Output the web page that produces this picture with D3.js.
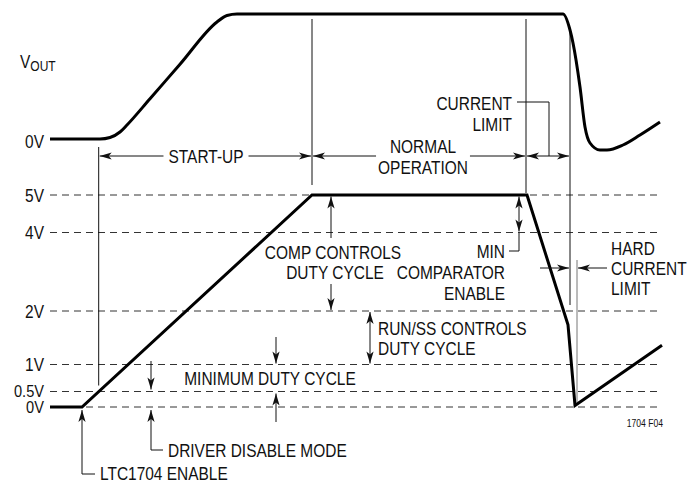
<!DOCTYPE html>
<html><head><meta charset="utf-8">
<script src="https://cdn.jsdelivr.net/npm/d3@7"></script>
<style>
body{margin:0;background:#fff}
svg text{font-family:"Liberation Sans",Arial,sans-serif;font-size:18px;fill:#111}
</style></head><body><svg id="c" width="695" height="483"></svg>
<script>
// ---------- data ----------
const levelLabels = ["5V", "4V", "2V", "1V", "0.5V", "0V"];
const levelValues = [5, 4, 2, 1, 0.5, 0];
// VOUT (fraction of nominal) vs time (arbitrary units)
const voutTime  = [0, 5, 6, 7, 7.7, 10, 13, 16.7, 17.7, 18.7, 51.3, 52, 52.3, 53, 53.5, 54, 55, 55.7, 57.3, 59, 61];
const voutValue = [0, 0, 0.012, 0.056, 0.112, 0.322, 0.598, 0.936, 0.988, 1, 1, 0.872, 0.768, 0.416, 0.096, -0.032, -0.088, -0.088, -0.048, 0.032, 0.136];
// RUN/SS voltage vs time
const runssTime  = [0, 3.2, 26.2, 47.7, 51.8, 52.5, 61.2];
const runssValue = [0, 0, 5, 5, 1.74, 0.05, 1.36];
// event markers
const eventNames = ["enable", "startup", "normal", "climit", "hard", "hard2"];
const eventTimes = [3.2, 4.87, 26.2, 47.6, 52.0, 52.7];

// ---------- scales ----------
const x = d3.scaleLinear().domain([0, 61]).range([50, 660]);
const yTop = d3.scaleLinear().domain([0, 1]).range([139, 14]);
const yBot = d3.scaleLinear().domain([0, 0.5, 1, 2, 4, 5]).range([407, 391.5, 364.5, 311, 232.5, 195]);
const ev = {}; eventNames.forEach((n, i) => ev[n] = x(eventTimes[i]));

const svg = d3.select("#c");
const SX = 0.86; // condensed look

// ---------- helpers ----------
function line(x1, y1, x2, y2, col, w) {
  svg.append("line").attr("x1", x1).attr("y1", y1).attr("x2", x2).attr("y2", y2)
    .attr("stroke", col || "#111").attr("stroke-width", w || 1);
}
function head(xt, yt, xf, yf) {
  const a = Math.atan2(yt - yf, xt - xf), L = 12, W = 3.6;
  const bx = xt - L * Math.cos(a), by = yt - L * Math.sin(a);
  const nx = -Math.sin(a) * W, ny = Math.cos(a) * W;
  const mx = xt - L * 0.75 * Math.cos(a), my = yt - L * 0.75 * Math.sin(a);
  svg.append("path").attr("d", `M${xt},${yt}L${bx + nx},${by + ny}L${mx},${my}L${bx - nx},${by - ny}Z`).attr("fill", "#111");
}
function arrow(x1, y1, x2, y2) { line(x1, y1, x2, y2); head(x2, y2, x1, y1); }
function darrow(x1, y1, x2, y2) { line(x1, y1, x2, y2); head(x2, y2, x1, y1); head(x1, y1, x2, y2); }
function txt(s, xx, yy, anchor, size) {
  const t = svg.append("text").attr("transform", `translate(${xx},${yy}) scale(${SX},1)`)
    .attr("text-anchor", anchor || "start").style("font-size", (size || 18) + "px").text(s);
  t.width = () => t.node().getComputedTextLength() * SX;
  return t;
}

// ---------- level grid ----------
levelValues.forEach((v, i) => {
  svg.append("line").attr("x1", 50).attr("x2", 658).attr("y1", yBot(v)).attr("y2", yBot(v))
    .attr("stroke", "#333").attr("stroke-width", 1).attr("stroke-dasharray", "7,5");
  const small = v <= 0.5;
  txt(levelLabels[i], 44, yBot(v) + (small ? 5.5 : 6.5), "end", small ? 17 : 18);
});

// ---------- top labels ----------
const vl = svg.append("text").attr("transform", `translate(20,68) scale(${SX},1)`);
vl.append("tspan").text("V");
vl.append("tspan").attr("dy", 3).style("font-size", "14px").text("OUT");
txt("0V", 44, yTop(0) + 9, "end");

// ---------- vertical event lines ----------
line(ev.startup, 147, ev.startup, yBot(0.5) - 6);
line(ev.normal, 19, ev.normal, yBot(5) - 10);
line(ev.climit, 19, ev.climit, yBot(5) - 2);
line(ev.hard, yTop(0.87), ev.hard, 305);
line(ev.hard2, 260, ev.hard2, 402, "#777", 1);

// ---------- curves ----------
const vout = voutTime.map((t, i) => [t, voutValue[i]]);
svg.append("path").datum(vout)
  .attr("d", d3.line().x(d => x(d[0])).y(d => yTop(d[1])).curve(d3.curveMonotoneX))
  .attr("fill", "none").attr("stroke", "#000").attr("stroke-width", 3).attr("stroke-linejoin", "round");
const runss = runssTime.map((t, i) => [t, runssValue[i]]);
svg.append("path").datum(runss)
  .attr("d", d3.line().x(d => x(d[0])).y(d => yBot(d[1])))
  .attr("fill", "none").attr("stroke", "#000").attr("stroke-width", 3).attr("stroke-linejoin", "miter");

// ---------- phase arrows (row) ----------
const rowY = 156;
{
  const cx = 206, t = txt("START-UP", cx, rowY + 6.5, "middle");
  const w = t.width();
  arrow(cx - w / 2 - 5, rowY, ev.startup + 1, rowY);
  arrow(cx + w / 2 + 5, rowY, ev.normal - 1, rowY);
}
{
  const cx = 423;
  txt("NORMAL", cx, rowY - 3, "middle");
  const t = txt("OPERATION", cx, rowY + 18, "middle");
  const w = t.width();
  arrow(cx - w / 2 - 2, rowY, ev.normal + 1, rowY);
  arrow(cx + w / 2 + 2, rowY, ev.climit - 1, rowY);
}
darrow(ev.climit + 1, rowY, ev.hard - 1, rowY);
txt("CURRENT", 512, 110, "end");
txt("LIMIT", 512, 131, "end");
line(517, 102, 549, 102); line(549, 102, 549, rowY);

// ---------- annotations ----------
txt("COMP CONTROLS", 333, 259, "middle");
txt("DUTY CYCLE", 335, 279, "middle");
arrow(331, 238, 331, yBot(5) + 1.5);
arrow(331, 284, 331, yBot(2) - 1);

txt("MIN", 505, 258, "end");
txt("COMPARATOR", 505, 279, "end");
txt("ENABLE", 505, 300, "end");
darrow(519, yBot(5) + 1.5, 519, yBot(4) - 1);
line(509, 251, 519, 251); line(519, 251, 519, yBot(4));

arrow(540, 268, ev.hard - 1, 268);
arrow(607, 268, ev.hard2 + 1, 268);
txt("HARD", 611, 255, "start");
txt("CURRENT", 611, 275, "start");
txt("LIMIT", 611, 295, "start");

darrow(370, yBot(2) + 1, 370, yBot(1) - 1);
txt("RUN/SS CONTROLS", 378, 335, "start");
txt("DUTY CYCLE", 378, 355, "start");

txt("MINIMUM DUTY CYCLE", 270, 385, "middle");
arrow(276, 337, 276, yBot(1) - 1);
arrow(276, 422, 276, yBot(0.5) + 2);

arrow(151, 361, 151, yBot(0.5) - 2);
arrow(151, 450, 151, yBot(0) + 3);
line(151, 450, 163, 450);
txt("DRIVER DISABLE MODE", 168, 457, "start");

arrow(ev.enable, 474, ev.enable, yBot(0) + 3);
line(ev.enable, 474, 95, 474);
txt("LTC1704 ENABLE", 100, 479.5, "start");

txt("1704 F04", 663, 427, "end", 10);
</script></body></html>
